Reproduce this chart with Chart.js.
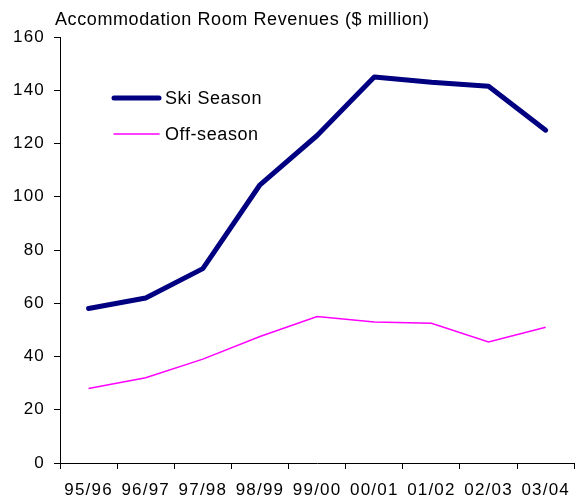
<!DOCTYPE html>
<html>
<head>
<meta charset="utf-8">
<script src="https://cdn.jsdelivr.net/npm/chart.js@4.4.1/dist/chart.umd.min.js"></script>
<style>
  html, body { margin: 0; padding: 0; background: #fff; }
  #wrap { width: 578px; height: 502px; position: relative; }
</style>
</head>
<body>
<div id="wrap"><canvas id="revChart"></canvas></div>
<script>
// Data
const seasons = ['95/96', '96/97', '97/98', '98/99', '99/00', '00/01', '01/02', '02/03', '03/04'];
const skiSeason = [58, 62, 73, 104.5, 123, 145, 143, 141.5, 125];
const offSeason = [28, 32, 39, 47.5, 55, 53, 52.5, 45.5, 51];
const yTicks = [0, 20, 40, 60, 80, 100, 120, 140, 160];

const titleText = 'Accommodation Room Revenues ($ million)';
const FONT = '"Liberation Sans", Arial, sans-serif';

// Lidt bredere tekst ligesom i originalen
const spacing = {
    id: 'spacing',
    beforeDraw(chart) {
        chart.ctx.letterSpacing = '1.2px';
    }
};

// Titel i øverste venstre hjørne
const titlePlugin = {
    id: 'topTitle',
    afterDraw(chart) {
        const c = chart.ctx;
        c.save();
        c.letterSpacing = '0.6px';
        c.font = '18px ' + FONT;
        c.fillStyle = '#000';
        c.textBaseline = 'alphabetic';
        c.textAlign = 'left';
        c.fillText(titleText, 55, 25);
        c.restore();
    }
};

// Legende inde i plotområdet
const innerLegend = {
    id: 'innerLegend',
    afterDatasetsDraw(chart) {
        const c = chart.ctx;
        const area = chart.chartArea;
        c.save();
        c.letterSpacing = '0.6px';
        c.font = '18px ' + FONT;
        c.textBaseline = 'middle';
        c.fillStyle = '#000';
        chart.data.datasets.forEach(function(ds, i) {
            const y = area.top + 61 + i * 36;
            const x0 = area.left + 54;
            c.strokeStyle = ds.borderColor;
            c.lineWidth = ds.borderWidth;
            c.lineCap = 'round';
            c.beginPath();
            c.moveTo(x0, y);
            c.lineTo(x0 + 45, y);
            c.stroke();
            c.fillText(ds.label, x0 + 51, y + 1);
        });
        c.restore();
    }
};

const ctx = document.getElementById('revChart').getContext('2d');
const revChart = new Chart(ctx, {
    type: 'line',
    data: {
        labels: seasons,
        datasets: [
            {
                label: 'Ski Season',
                data: skiSeason,
                borderColor: '#000080',
                borderWidth: 5,
                pointRadius: 0,
                tension: 0,
                borderJoinStyle: 'round',
                borderCapStyle: 'round'
            },
            {
                label: 'Off-season',
                data: offSeason,
                borderColor: '#ff00ff',
                borderWidth: 1.5,
                pointRadius: 0,
                tension: 0
            }
        ]
    },
    options: {
        responsive: true,
        maintainAspectRatio: false,
        animation: false,
        layout: { padding: { top: 37, right: 1, left: 0, bottom: 0 } },
        plugins: {
            legend: { display: false },
            tooltip: { enabled: false }
        },
        scales: {
            x: {
                offset: true,
                grid: {
                    offset: true,
                    drawOnChartArea: false,
                    drawTicks: true,
                    tickLength: 6,
                    color: '#000'
                },
                border: { display: true, color: '#000', width: 1 },
                ticks: {
                    color: '#000',
                    font: { family: FONT, size: 17 },
                    padding: 11,
                    maxRotation: 0,
                    autoSkip: false
                },
                afterFit(scale) { scale.height = 39; }
            },
            y: {
                min: 0,
                max: 160,
                afterBuildTicks(scale) {
                    scale.ticks = yTicks.map(function(v) { return { value: v }; });
                },
                grid: {
                    drawOnChartArea: false,
                    drawTicks: true,
                    tickLength: 6,
                    color: '#000'
                },
                border: { display: true, color: '#000', width: 1 },
                ticks: {
                    color: '#000',
                    font: { family: FONT, size: 17 },
                    padding: 9
                },
                afterFit(scale) { scale.width = 60; }
            }
        }
    },
    plugins: [spacing, titlePlugin, innerLegend]
});
</script>
</body>
</html>
